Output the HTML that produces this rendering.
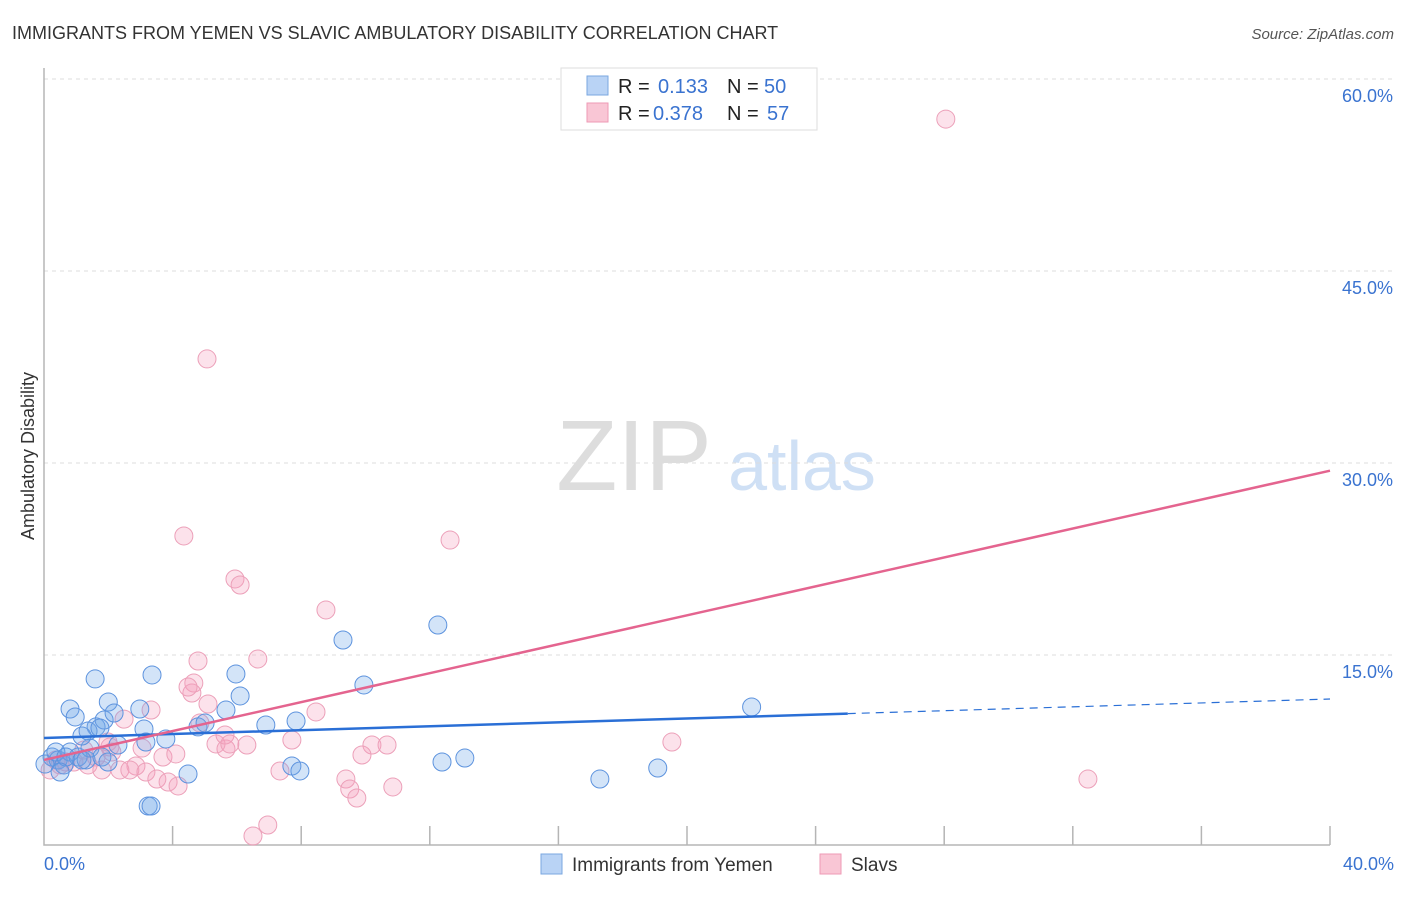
<!DOCTYPE html>
<html><head><meta charset="utf-8"><style>
body{margin:0;background:#fff;font-family:"Liberation Sans",sans-serif;}
svg text{font-family:"Liberation Sans",sans-serif;}
</style></head><body>
<svg id="chart" width="1406" height="892" xmlns="http://www.w3.org/2000/svg">
<text x="12" y="39" font-size="18" fill="#333">IMMIGRANTS FROM YEMEN VS SLAVIC AMBULATORY DISABILITY CORRELATION CHART</text>
<text x="1394" y="39" font-size="15" fill="#555" text-anchor="end" font-style="italic">Source: ZipAtlas.com</text>
<g>
<text x="634" y="490" font-size="100" fill="#ddd" text-anchor="middle" font-family="Liberation Serif">ZIP</text>
<text x="802" y="490" font-size="70" fill="#cfe0f5" text-anchor="middle">atlas</text>
</g>
<g id="grid"></g>
<g id="axes"></g>
<g id="pts"></g>
<g id="lines"></g>
<g>
<rect x="561" y="68" width="256" height="62" fill="#fff" stroke="#ddd"/>
<rect x="587" y="76" width="21" height="19" fill="#b9d3f5" stroke="#7aa7e0"/>
<rect x="587" y="103" width="21" height="19" fill="#f9c6d5" stroke="#ee9ab5"/>
<text x="618" y="93" font-size="20" fill="#222">R =</text>
<text x="658" y="93" font-size="20" fill="#3a73d0">0.133</text>
<text x="727" y="93" font-size="20" fill="#222">N =</text>
<text x="764" y="93" font-size="20" fill="#3a73d0">50</text>
<text x="618" y="120" font-size="20" fill="#222">R =</text>
<text x="653" y="120" font-size="20" fill="#3a73d0">0.378</text>
<text x="727" y="120" font-size="20" fill="#222">N =</text>
<text x="767" y="120" font-size="20" fill="#3a73d0">57</text>
</g>
<g>
<rect x="541" y="854" width="21" height="20" fill="#b9d3f5" stroke="#7aa7e0"/>
<text x="572" y="871" font-size="19" fill="#333">Immigrants from Yemen</text>
<rect x="820" y="854" width="21" height="20" fill="#f9c6d5" stroke="#ee9ab5"/>
<text x="851" y="871" font-size="19" fill="#333">Slavs</text>
</g>
<text transform="translate(34,456) rotate(-90)" font-size="18" fill="#333" text-anchor="middle">Ambulatory Disability</text>
</svg>
<script>
const yTicks=[15,30,45,60];
const yTickLabels=["15.0%","30.0%","45.0%","60.0%"];
const blueX=[0.25,0.44,0.62,0.81,1.06,1.31,1.43,1.62,1.87,2.0,2.18,2.3,0.81,0.97,1.18,1.37,1.59,1.8,1.99,2.98,3.11,3.17,3.36,3.24,3.33,3.79,4.48,4.79,5.01,5.66,5.97,6.1,6.9,7.71,7.84,7.96,9.3,9.95,12.25,12.38,13.09,17.29,19.09,22.01,0.03,0.37,0.68,1.74,1.18,0.5];
const blueY=[7.03,6.8,6.41,7.42,7.03,6.8,7.73,9.38,9.92,11.33,10.47,7.97,10.78,10.16,8.67,9.06,13.13,7.03,6.64,10.78,9.22,8.2,13.44,3.2,3.2,8.44,5.7,9.38,9.69,10.7,13.52,11.8,9.53,6.33,9.84,5.94,16.17,12.66,17.34,6.64,6.95,5.31,6.17,10.94,6.48,7.42,7.03,9.3,6.8,5.86];
const pinkX=[28.05,5.07,4.35,12.63,5.94,6.1,8.77,4.79,6.65,4.66,4.6,5.1,3.33,2.49,8.46,1.99,3.05,5.35,5.66,5.63,6.31,7.71,10.2,10.67,9.89,19.53,3.7,4.1,2.86,2.36,2.67,3.17,3.51,3.86,4.17,7.34,9.39,9.51,9.73,10.85,32.47,6.5,6.96,0.19,0.37,0.68,0.93,1.24,1.62,2.05,1.8,0.5,4.48,5.78,4.85,2.11,1.37];
const pinkY=[56.87,38.13,24.3,23.98,20.94,20.47,18.52,14.53,14.69,12.81,12.03,11.17,10.7,9.99,10.55,8.2,7.73,8.05,7.66,8.75,7.97,8.36,7.97,7.97,7.19,8.2,7.03,7.27,6.33,6.02,6.02,5.86,5.31,5.08,4.77,5.94,5.31,4.53,3.83,4.69,5.31,0.86,1.72,6.02,6.8,6.64,6.64,7.58,7.03,7.81,6.02,6.41,12.5,8.05,9.69,7.42,6.41];
const blueLine=[8.52,11.56];
const pinkLine=[6.8,29.4];
const blueSolidEnd=25;
const ns="http://www.w3.org/2000/svg";
const X0=44,X1=1330,Y0=847,PXPER=192/15;
const sx=v=>X0+(v/40)*(X1-X0), sy=v=>Y0-v*PXPER;
function mk(t,a,p){const e=document.createElementNS(ns,t);for(const k in a)e.setAttribute(k,a[k]);p.appendChild(e);return e;}
const grid=document.getElementById('grid'),axes=document.getElementById('axes'),pts=document.getElementById('pts'),lines=document.getElementById('lines');
yTicks.forEach((t,i)=>{
 const l=mk('line',{x1:X0,x2:1394,y1:sy(t),y2:sy(t),stroke:'#ddd','stroke-dasharray':'4,4'},grid);
 
 
 const tx=mk('text',{x:1393,y:sy(t)+23,'font-size':18,fill:'#3a73d0','text-anchor':'end'},axes);
 tx.textContent=yTickLabels[i];
 
 
});
const ax=mk('path',{d:`M${X0},68 L${X0},845 L${X1},845`,fill:'none',stroke:'#b5b5b5','stroke-width':1.5},axes);


for(let i=1;i<=10;i++){const x=X0+i*(X1-X0)/10;const t=mk('line',{x1:x,x2:x,y1:826,y2:845,stroke:'#b5b5b5','stroke-width':1.5},axes);
 
 }
[["0.0%",44,'start'],["40.0%",1394,'end']].forEach(d=>{const t=mk('text',{x:d[1],y:870,'font-size':18,fill:'#3a73d0','text-anchor':d[2]},axes);t.textContent=d[0];
 
 });
pinkX.forEach((v,i)=>{const c=mk('circle',{cx:sx(v),cy:sy(pinkY[i]),r:9,fill:'rgba(244,160,188,0.3)',stroke:'#eca0b9','stroke-width':1},pts);
 
 });
blueX.forEach((v,i)=>{const c=mk('circle',{cx:sx(v),cy:sy(blueY[i]),r:9,fill:'rgba(110,165,232,0.3)',stroke:'#5d93de','stroke-width':1},pts);
 
 });
const by=x=>blueLine[0]+(blueLine[1]-blueLine[0])*x/40;
let l1=mk('line',{x1:sx(0),y1:sy(by(0)),x2:sx(blueSolidEnd),y2:sy(by(blueSolidEnd)),stroke:'#2a6fd6','stroke-width':2.5},lines);


let l2=mk('line',{x1:sx(blueSolidEnd),y1:sy(by(blueSolidEnd)),x2:sx(40),y2:sy(by(40)),stroke:'#2a6fd6','stroke-width':1.2,'stroke-dasharray':'8,6'},lines);


let l3=mk('line',{x1:sx(0),y1:sy(pinkLine[0]),x2:sx(40),y2:sy(pinkLine[1]),stroke:'#e4648f','stroke-width':2.5},lines);


</script>
</body></html>
